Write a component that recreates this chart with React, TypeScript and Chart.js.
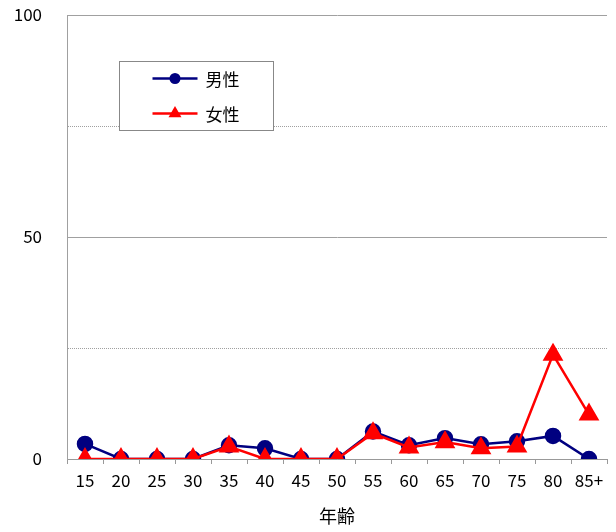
import React, { useEffect, useRef } from 'react';
import { Chart, registerables } from 'chart.js';

Chart.register(...registerables);

const categories = ['15', '20', '25', '30', '35', '40', '45', '50', '55', '60', '65', '70', '75', '80', '85+'];
const maleValues = [3.4, 0, 0, 0, 3.1, 2.4, 0, 0, 6.2, 3.1, 4.7, 3.3, 4.0, 5.2, 0];
const femaleValues = [0, 0, 0, 0, 2.8, 0, 0, 0, 5.8, 2.6, 3.8, 2.4, 2.8, 23.5, 10];
const seriesNames = ['男性', '女性'];
const labelledTicks = [0, 50, 100];
const xAxisTitle = '年齢';

const FONT = '"Noto Sans CJK JP", "Noto Sans", sans-serif';
const MALE_COLOR = '#000080';
const FEMALE_COLOR = '#ff0000';

const legendPlugin = {
  id: 'boxLegend',
  afterDraw(chart: any) {
    const { ctx, chartArea } = chart;
    const bx = chartArea.left + 52.5;
    const by = chartArea.top + 46.5;
    const bw = 154;
    const bh = 69;
    ctx.save();
    ctx.fillStyle = '#ffffff';
    ctx.fillRect(bx, by, bw, bh);
    ctx.strokeStyle = '#888888';
    ctx.lineWidth = 1;
    ctx.strokeRect(bx, by, bw, bh);
    const items = [chart.data.datasets[0], chart.data.datasets[1]];
    items.forEach((ds: any, i: number) => {
      const cy = by + 17 + i * 35;
      const lx1 = bx + 33;
      const lx2 = bx + 78;
      ctx.strokeStyle = ds.borderColor;
      ctx.lineWidth = 2.5;
      ctx.beginPath();
      ctx.moveTo(lx1, cy);
      ctx.lineTo(lx2, cy);
      ctx.stroke();
      ctx.fillStyle = ds.pointBackgroundColor;
      const mx = (lx1 + lx2) / 2;
      ctx.beginPath();
      if (ds.pointStyle === 'triangle') {
        const r = 7.5;
        ctx.moveTo(mx, cy - r);
        ctx.lineTo(mx + r * 0.866, cy + r * 0.5);
        ctx.lineTo(mx - r * 0.866, cy + r * 0.5);
        ctx.closePath();
      } else {
        ctx.arc(mx, cy, 5.5, 0, Math.PI * 2);
      }
      ctx.fill();
      ctx.fillStyle = '#000000';
      ctx.font = `17px ${FONT}`;
      ctx.textAlign = 'left';
      ctx.textBaseline = 'middle';
      ctx.fillText(ds.label, bx + 86, cy + 1);
    });
    ctx.restore();
  },
};

export default function App() {
  const canvasRef = useRef<HTMLCanvasElement | null>(null);

  useEffect(() => {
    if (!canvasRef.current) return;
    const chart = new Chart(canvasRef.current, {
      type: 'line',
      data: {
        labels: categories,
        datasets: [
          {
            label: seriesNames[0],
            data: maleValues,
            borderColor: MALE_COLOR,
            backgroundColor: MALE_COLOR,
            pointBackgroundColor: MALE_COLOR,
            pointBorderColor: MALE_COLOR,
            pointStyle: 'circle',
            pointRadius: 7,
            borderWidth: 2.5,
            tension: 0,
            order: 1,
          },
          {
            label: seriesNames[1],
            data: femaleValues,
            borderColor: FEMALE_COLOR,
            backgroundColor: FEMALE_COLOR,
            pointBackgroundColor: FEMALE_COLOR,
            pointBorderColor: FEMALE_COLOR,
            pointStyle: 'triangle',
            pointRadius: 9.5,
            borderWidth: 2.5,
            tension: 0,
            order: 0,
          },
        ],
      },
      options: {
        responsive: false,
        animation: false,
        maintainAspectRatio: false,
        layout: { autoPadding: false, padding: { top: 15, right: 9, left: 0, bottom: 0 } },
        plugins: {
          legend: { display: false },
          tooltip: { enabled: false },
        },
        scales: {
          x: {
            type: 'category',
            offset: true,
            grid: {
              offset: true,
              drawOnChartArea: false,
              drawTicks: true,
              tickLength: 5,
              tickColor: '#999999',
              tickWidth: 1,
            },
            border: { display: true, color: '#999999', width: 1 },
            ticks: {
              color: '#000000',
              font: { family: FONT, size: 17 },
              padding: 6,
              maxRotation: 0,
              autoSkip: false,
            },
            title: {
              display: true,
              text: xAxisTitle,
              color: '#000000',
              font: { family: FONT, size: 18 },
              padding: { top: 0, bottom: 5 },
            },
            afterFit(scale: any) {
              scale.height = 73;
              scale.paddingLeft = 0;
              scale.paddingRight = 0;
            },
          },
          y: {
            min: 0,
            max: 100,
            ticks: {
              stepSize: 25,
              color: '#000000',
              font: { family: FONT, size: 17 },
              padding: 25,
              callback: (v: any) => (labelledTicks.includes(Number(v)) ? String(v) : ''),
            },
            grid: {
              drawTicks: false,
              color: '#a0a0a0',
              lineWidth: 1,
            },
            border: {
              display: true,
              color: '#a0a0a0',
              width: 1,
              dash: (ctx: any) => {
                if (ctx && ctx.tick && (ctx.tick.value === 25 || ctx.tick.value === 75)) return [1, 1];
                return [];
              },
            },
            afterFit(scale: any) {
              scale.width = 67;
              scale.paddingTop = 0;
              scale.paddingBottom = 0;
            },
          },
        },
      },
      plugins: [legendPlugin],
    } as any);
    return () => chart.destroy();
  }, []);

  return (
    <div style={{ position: 'fixed', left: 0, top: 0, width: 616, height: 532, background: '#ffffff' }}>
      <canvas ref={canvasRef} width={616} height={532} style={{ width: 616, height: 532 }} />
    </div>
  );
}
